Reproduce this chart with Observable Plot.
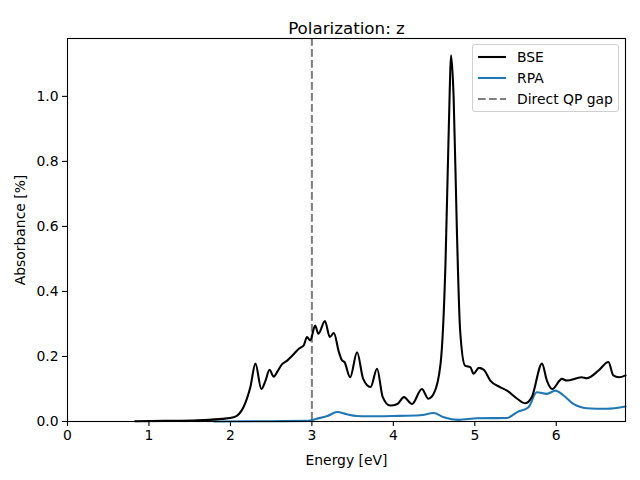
<!DOCTYPE html>
<html>
<head>
<meta charset="utf-8">
<script src="https://cdn.jsdelivr.net/npm/d3@7"></script>
<script src="https://cdn.jsdelivr.net/npm/@observablehq/plot@0.6"></script>
<style>
body { margin: 0; background: #fff; }
#wrap { position: relative; width: 640px; height: 480px; font-family: "DejaVu Sans", sans-serif; }
#legend { position: absolute; left: 472px; top: 44px; width: 145px; height: 66px; border: 1px solid #d0d0d0; border-radius: 3px; background: rgba(255,255,255,0.8); font-size: 13.9px; color: #000; }
.row { position: absolute; left: 0; height: 20px; }
.sw { position: absolute; left: 5px; top: 9px; width: 28px; height: 0; }
.lab { position: absolute; left: 44px; top: 0; white-space: nowrap; line-height: 20px; }
</style>
</head>
<body>
<div id="wrap"></div>
<script>
const title = "Polarization: z";
const xLabel = "Energy [eV]";
const yLabel = "Absorbance [%]";
const seriesNames = ["BSE", "RPA", "Direct QP gap"];
const qpGap = [3.0];

const bseEnergy = [0.83, 1.2, 1.6, 1.9, 2.04, 2.16, 2.245, 2.307, 2.38, 2.43, 2.48, 2.53, 2.58, 2.63, 2.70, 2.77, 2.84, 2.90, 2.94, 2.98, 3.04, 3.08, 3.16, 3.22, 3.27, 3.33, 3.37, 3.40, 3.47, 3.555, 3.63, 3.72, 3.80, 3.87, 3.96, 4.05, 4.13, 4.23, 4.35, 4.43, 4.495, 4.58, 4.64, 4.68, 4.71, 4.74, 4.78, 4.82, 4.88, 4.945, 4.985, 5.05, 5.11, 5.19, 5.31, 5.395, 5.52, 5.62, 5.70, 5.825, 5.885, 5.95, 6.07, 6.13, 6.31, 6.375, 6.52, 6.64, 6.70, 6.77, 6.85];
const bseAbs = [0.001, 0.002, 0.004, 0.008, 0.013, 0.044, 0.106, 0.178, 0.10, 0.125, 0.159, 0.138, 0.155, 0.175, 0.188, 0.205, 0.224, 0.234, 0.26, 0.249, 0.295, 0.27, 0.309, 0.26, 0.272, 0.215, 0.188, 0.183, 0.136, 0.213, 0.131, 0.106, 0.162, 0.075, 0.049, 0.054, 0.075, 0.054, 0.10, 0.07, 0.085, 0.178, 0.485, 0.895, 1.126, 0.998, 0.588, 0.28, 0.172, 0.167, 0.147, 0.165, 0.159, 0.126, 0.106, 0.095, 0.07, 0.056, 0.075, 0.178, 0.126, 0.10, 0.131, 0.126, 0.136, 0.133, 0.157, 0.183, 0.142, 0.136, 0.142];

const rpaEnergy = [1.8, 2.5, 2.95, 3.05, 3.19, 3.31, 3.43, 3.55, 3.68, 4.0, 4.33, 4.495, 4.62, 4.80, 5.03, 5.395, 5.52, 5.66, 5.76, 5.885, 5.99, 6.09, 6.21, 6.375, 6.62, 6.85];
const rpaAbs = [0.0, 0.001, 0.002, 0.008, 0.017, 0.029, 0.022, 0.017, 0.016, 0.017, 0.019, 0.026, 0.013, 0.005, 0.010, 0.011, 0.029, 0.044, 0.09, 0.085, 0.095, 0.08, 0.054, 0.041, 0.039, 0.046];

const xTicks = [0, 1, 2, 3, 4, 5, 6];
const yTicks = [0, 0.2, 0.4, 0.6, 0.8, 1.0];
const colors = ["#000000", "#1f77b4", "#808080"];

const bse = bseEnergy.map((e, i) => ({e, v: bseAbs[i]}));
const rpa = rpaEnergy.map((e, i) => ({e, v: rpaAbs[i]}));

const chart = Plot.plot({
  width: 640,
  height: 480,
  marginLeft: 67,
  marginRight: 15,
  marginTop: 38,
  marginBottom: 59,
  style: {fontFamily: "DejaVu Sans, sans-serif", fontSize: "13.9px", color: "#000", background: "#fff"},
  x: {domain: [0, 6.85]},
  y: {domain: [0, 1.178]},
  marks: [
    Plot.axisX({ticks: xTicks, tickFormat: d3.format("d"), tickSize: 5, tickPadding: 4, strokeWidth: 1.1, label: xLabel, labelAnchor: "center", labelArrow: "none", labelOffset: 43, fontSize: 13.9}),
    Plot.axisY({ticks: yTicks, tickFormat: d3.format(".1f"), tickSize: 5, tickPadding: 4, strokeWidth: 1.1, label: yLabel, labelAnchor: "center", labelArrow: "none", labelOffset: 52, fontSize: 13.9}),
    Plot.ruleX(qpGap, {stroke: colors[2], strokeWidth: 2.08, strokeDasharray: "7.7,3.3"}),
    Plot.line(rpa, {x: "e", y: "v", stroke: colors[1], strokeWidth: 2.08, curve: "monotone-x"}),
    Plot.line(bse, {x: "e", y: "v", stroke: colors[0], strokeWidth: 2.08, curve: "monotone-x"}),
    Plot.frame({stroke: "#000", strokeWidth: 1.1}),
    Plot.text([title], {frameAnchor: "top", dy: -16, fontSize: 16.7, fill: "#000"})
  ]
});
const wrap = document.getElementById("wrap");
wrap.appendChild(chart);

const legend = document.createElement("div");
legend.id = "legend";
seriesNames.forEach((name, i) => {
  const row = document.createElement("div");
  row.className = "row";
  row.style.top = (2 + i * 21) + "px";
  row.style.width = "100%";
  const sw = document.createElement("div");
  sw.className = "sw";
  const dash = i === 2 ? ' stroke-dasharray="7.7,3.3"' : "";
  sw.innerHTML = '<svg width="28" height="4" style="position:absolute;top:-1px;left:0"><line x1="0" y1="2" x2="28" y2="2" stroke="' + colors[i] + '" stroke-width="2.08"' + dash + '/></svg>';
  const lab = document.createElement("div");
  lab.className = "lab";
  lab.textContent = name;
  row.appendChild(sw);
  row.appendChild(lab);
  legend.appendChild(row);
});
wrap.appendChild(legend);
</script>
</body>
</html>
